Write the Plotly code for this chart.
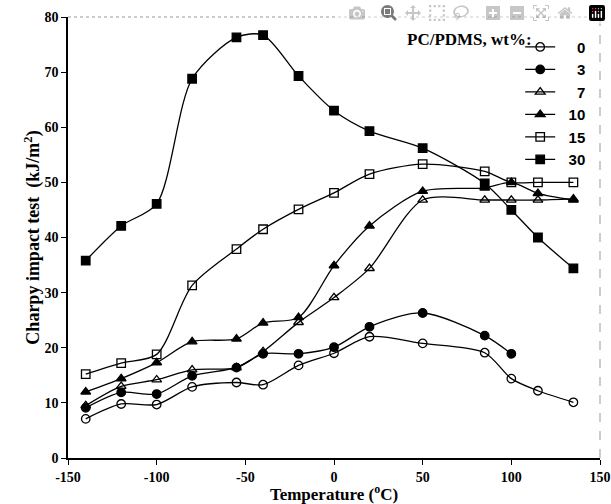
import plotly.graph_objects as go

temps = [-140, -120, -100, -80, -55, -40, -20, 0, 20, 50, 85, 100, 115, 135]

wt0 = [7.1, 9.8, 9.7, 12.9, 13.7, 13.3, 16.8, 19.0, 22.0, 20.8, 19.1, 14.4, 12.2, 10.1]
wt3 = [9.1, 11.9, 11.6, 14.9, 16.4, 18.9, 18.9, 20.1, 23.8, 26.3, 22.2, 18.9]
wt7 = [9.5, 13.0, 14.2, 16.0, 16.4, 19.3, 24.6, 29.1, 34.4, 46.8, 46.8, 46.8, 46.8, 47.0]
wt10 = [12.0, 14.4, 17.3, 21.1, 21.6, 24.5, 25.5, 34.9, 42.1, 48.4, 49.0, 50.0, 48.0, 46.8]
wt15 = [15.2, 17.2, 18.8, 31.3, 37.9, 41.5, 45.1, 48.1, 51.5, 53.3, 52.0, 50.0, 50.0, 50.0]
wt30 = [35.8, 42.1, 46.1, 68.8, 76.3, 76.7, 69.3, 63.0, 59.3, 56.2, 49.8, 45.0, 40.0, 34.4]

x_ticks = [-150, -100, -50, 0, 50, 100, 150]
x_ticktext = ["-150", "-100", "-50", "0", "50", "100", "150"]
y_ticks = [0, 10, 20, 30, 40, 50, 60, 70, 80]

series_names = ["0", "3", "7", "10", "15", "30"]
series_values = [wt0, wt3, wt7, wt10, wt15, wt30]
series_symbols = ["circle-open", "circle", "triangle-up-open", "triangle-up", "square-open", "square"]
legend_title = "PC/PDMS, wt%:"

serif = "Liberation Serif"
FIG_SPACE = "\u2007"
fig = go.Figure()
for name, vals, sym in zip(series_names, series_values, series_symbols):
    label = FIG_SPACE * (3 - len(name)) + name  # right-align legend numbers
    fig.add_trace(go.Scatter(
        x=temps[:len(vals)], y=vals, name=label, mode="lines+markers",
        line=dict(color="black", width=1.3, shape="spline", smoothing=0.8),
        marker=dict(symbol=sym, size=8.5, color="black", line=dict(color="black", width=1.3)),
    ))

fig.add_annotation(
    text="<b>" + legend_title + "</b>", xref="paper", yref="paper",
    x=0.6335, y=0.948, xanchor="left", yanchor="middle", showarrow=False,
    font=dict(family=serif, size=17, color="black"),
)

fig.update_layout(
    width=611, height=504,
    margin=dict(l=68, r=11, t=17, b=46, autoexpand=False),
    plot_bgcolor="white", paper_bgcolor="white",
    font=dict(family=serif, size=14, color="black"),
    legend=dict(
        x=0.85, y=0.969, xanchor="left", yanchor="top",
        bgcolor="rgba(0,0,0,0)",
        font=dict(family="Liberation Sans", size=15, color="black", weight="bold"),
        tracegroupgap=0,
    ),
    xaxis=dict(
        range=[-150, 150], tickvals=x_ticks, ticktext=x_ticktext,
        ticks="outside", ticklen=5, tickwidth=1.3, tickcolor="black",
        showline=True, linecolor="black", linewidth=1.5, showgrid=False, zeroline=False,
        tickfont=dict(family=serif, size=14, weight="bold"),
        title=dict(text="<b>Temperature (<sup>o</sup>C)</b>", standoff=10,
                   font=dict(family=serif, size=17)),
        automargin=False,
    ),
    yaxis=dict(
        range=[0, 80], tickvals=y_ticks,
        ticks="outside", ticklen=5, tickwidth=1.3, tickcolor="black",
        showline=True, linecolor="black", linewidth=1.5, showgrid=False, zeroline=False,
        tickfont=dict(family=serif, size=14, weight="bold"),
        title=dict(text="<b>Charpy impact test  (kJ/m<sup>2</sup>)</b>", standoff=0,
                   font=dict(family=serif, size=18)),
        automargin=False,
    ),
)
fig.add_shape(type="line", xref="paper", yref="paper", x0=0, x1=1, y0=1, y1=1,
              line=dict(color="#999999", width=1, dash="dot"))
fig.add_shape(type="line", xref="paper", yref="paper", x0=1, x1=1, y0=0, y1=1,
              line=dict(color="#999999", width=1, dash="dash"))

# remove the browser's default 8px body margin so the 611x504 figure fills the window exactly
fig.write_html("out.html", post_script="document.body.style.margin='0px';")
